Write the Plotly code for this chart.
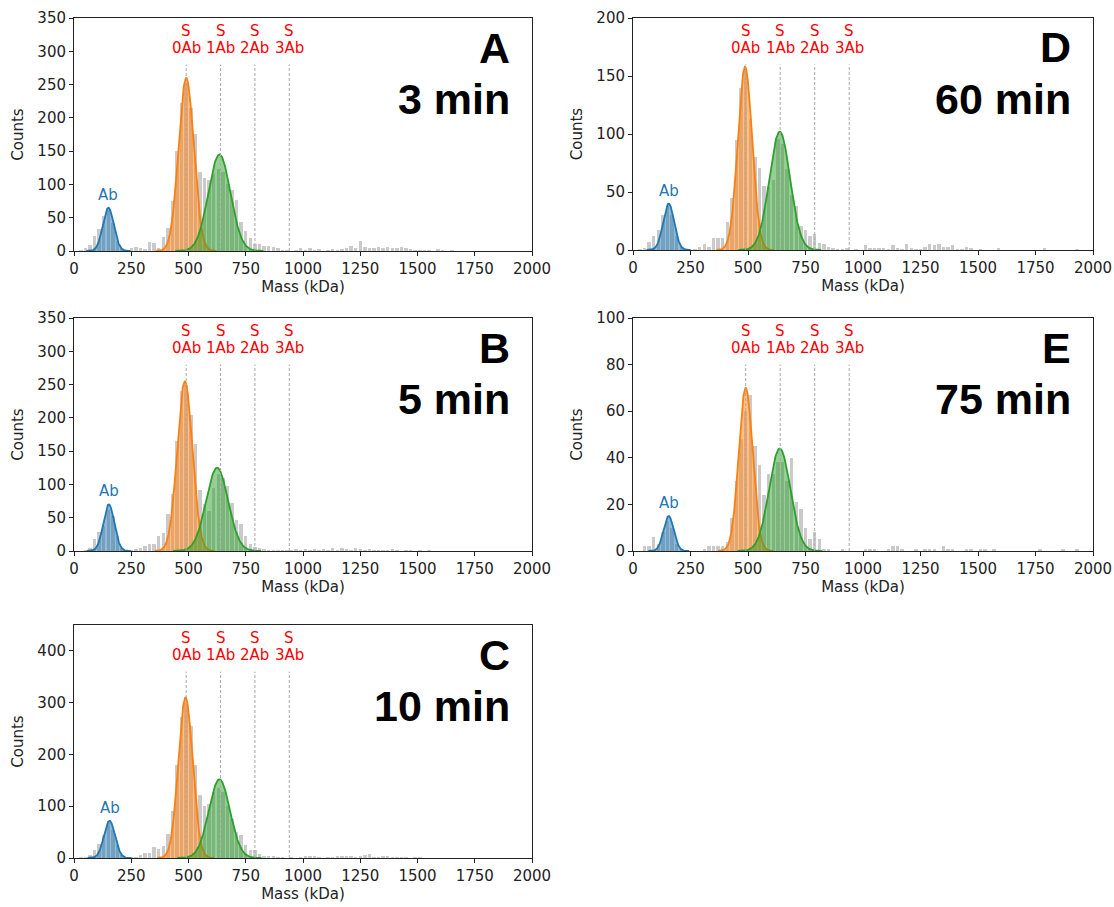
import numpy as np
import plotly.graph_objects as go

# ---------------- data ----------------
bin_centers = list(range(10, 2000, 20))   # 20 kDa bins, 0-2000 kDa
bar_width = 15

panel_letters = ["A", "B", "C", "D", "E"]
panel_times = ["3 min", "5 min", "10 min", "60 min", "75 min"]
y_max = [350, 350, 450, 200, 100]
y_dtick = [50, 50, 100, 50, 20]

counts_A = [0, 1, 5, 9, 22, 33, 52, 62, 42, 15,
            4, 1, 5, 6, 4, 3, 13, 12, 5, 21,
            34, 75, 150, 222, 252, 215, 176, 118, 110, 106,
            116, 123, 118, 100, 92, 76, 43, 30, 20, 10,
            10, 8, 7, 6, 5, 1, 2, 0, 2, 4,
            1, 4, 2, 3, 0, 1, 3, 2, 3, 4,
            8, 5, 15, 6, 5, 4, 6, 5, 6, 4,
            5, 6, 4, 3, 2, 2, 1, 1, 0, 3,
            1, 0, 2, 0, 0, 0, 0, 0, 0, 0,
            0, 0, 0, 0, 0, 0, 0, 0, 0, 0]
counts_B = [0, 0, 2, 5, 18, 28, 38, 62, 52, 22,
            5, 2, 1, 3, 4, 8, 10, 11, 23, 27,
            55, 85, 165, 240, 250, 205, 160, 91, 70, 60,
            95, 116, 110, 98, 72, 47, 40, 23, 10, 6,
            5, 3, 2, 2, 2, 1, 2, 1, 3, 2,
            3, 2, 3, 1, 3, 2, 4, 2, 4, 3,
            2, 4, 3, 2, 3, 2, 1, 2, 1, 3,
            2, 0, 1, 1, 0, 2, 0, 1, 0, 0,
            0, 0, 0, 0, 0, 0, 0, 0, 0, 0,
            0, 0, 0, 0, 0, 0, 0, 0, 0, 0]
counts_C = [0, 1, 2, 5, 15, 28, 45, 68, 55, 25,
            6, 2, 1, 2, 5, 10, 10, 21, 18, 24,
            47, 90, 180, 272, 300, 255, 180, 121, 100, 105,
            128, 136, 128, 100, 76, 50, 44, 25, 15, 16,
            8, 4, 4, 3, 2, 1, 0, 1, 0, 1,
            3, 3, 3, 1, 0, 2, 2, 3, 4, 4,
            3, 2, 3, 6, 7, 2, 1, 4, 3, 1,
            2, 2, 1, 0, 1, 2, 0, 0, 0, 0,
            0, 0, 0, 0, 0, 0, 0, 0, 0, 0,
            0, 0, 0, 0, 0, 0, 0, 0, 0, 0]
counts_D = [0, 1, 2, 7, 12, 17, 30, 38, 30, 12,
            3, 1, 0, 1, 3, 5, 3, 10, 10, 10,
            24, 45, 95, 140, 156, 113, 80, 71, 55, 54,
            60, 96, 91, 70, 47, 38, 21, 17, 12, 14,
            6, 5, 3, 2, 1, 1, 2, 0, 1, 0,
            4, 2, 2, 2, 2, 1, 4, 2, 1, 5,
            2, 1, 1, 3, 5, 4, 5, 3, 3, 4,
            1, 1, 3, 2, 0, 1, 0, 0, 0, 2,
            0, 0, 0, 0, 0, 0, 0, 0, 0, 2,
            0, 0, 0, 0, 0, 0, 1, 0, 0, 0]
counts_E = [0, 0, 2, 2, 6, 3, 8, 13, 10, 3,
            1, 0, 0, 0, 0, 1, 2, 2, 2, 2,
            4, 14, 30, 48, 60, 67, 45, 37, 24, 33,
            33, 38, 38, 30, 40, 21, 18, 10, 5, 8,
            5, 1, 1, 0, 0, 1, 0, 0, 0, 0,
            1, 1, 1, 0, 0, 1, 2, 2, 1, 0,
            0, 1, 0, 1, 1, 1, 0, 2, 1, 1,
            0, 0, 1, 1, 0, 1, 1, 0, 1, 0,
            0, 0, 0, 0, 0, 0, 0, 0, 1, 0,
            0, 0, 0, 1, 0, 0, 1, 0, 0, 0]
panel_counts = [counts_A, counts_B, counts_C, counts_D, counts_E]

# Gaussian fit parameters per panel: (amplitude, mean kDa, sigma kDa)
fit_Ab = [(65, 150, 24), (70, 152, 24), (72, 155, 24), (40, 155, 24), (15, 155, 22)]
fit_S0Ab = [(260, 490, 33), (255, 484, 33), (310, 487, 31), (158, 487, 31), (70, 490, 30)]
fit_S1Ab = [(145, 635, 48), (125, 625, 48), (152, 635, 46), (102, 638, 45), (44, 638, 46)]

species_masses = [490, 640, 790, 940]
species_labels = ["0Ab", "1Ab", "2Ab", "3Ab"]

# ---------------- layout geometry ----------------
W, H = 1114, 907
col_x = {"L": (74, 532), "R": (633, 1093)}
panel_pos = [("L", 18, 251), ("L", 318, 551), ("L", 625, 858), ("R", 18, 250), ("R", 318, 551)]

fit_colors = [("#1f77b4", "rgba(31,119,180,0.5)"),
              ("#ff7f0e", "rgba(255,127,14,0.5)"),
              ("#2ca02c", "rgba(44,160,44,0.5)")]

FONT = "DejaVu Sans"
fig = go.Figure()
shapes = []
annotations = []

for k in range(5):
    idx = k + 1
    xa = "x" if idx == 1 else f"x{idx}"
    ya = "y" if idx == 1 else f"y{idx}"
    col, top, bot = panel_pos[k]
    x0, x1 = col_x[col]
    xdom = [x0 / W, x1 / W]
    ydom = [1 - bot / H, 1 - top / H]

    fig.add_trace(go.Bar(x=bin_centers, y=panel_counts[k], width=bar_width,
                         marker=dict(color="rgba(128,128,128,0.42)", line=dict(width=0)),
                         xaxis=xa, yaxis=ya, showlegend=False, hoverinfo="skip"))
    for fits, (lc, fc) in zip([fit_Ab, fit_S0Ab, fit_S1Ab], fit_colors):
        amp, mu, sig = fits[k]
        xs = np.linspace(mu - 4 * sig, mu + 4 * sig, 200)
        ys = amp * np.exp(-0.5 * ((xs - mu) / sig) ** 2)
        fig.add_trace(go.Scatter(x=xs, y=ys, mode="lines", fill="tozeroy",
                                 line=dict(color=lc, width=1.8), fillcolor=fc,
                                 xaxis=xa, yaxis=ya, showlegend=False, hoverinfo="skip"))

    axis_common = dict(showline=True, mirror=True, linecolor="#222", linewidth=1,
                       ticks="outside", ticklen=4, tickcolor="#222", showgrid=False,
                       zeroline=False, automargin=False,
                       tickfont=dict(family=FONT, size=15, color="#222"))
    fig.layout[f"xaxis{idx}" if idx > 1 else "xaxis"] = dict(
        domain=xdom, anchor=ya, range=[0, 2000], tick0=0, dtick=250,
        title=dict(text="Mass (kDa)", font=dict(family=FONT, size=15, color="#222"), standoff=4),
        **axis_common)
    fig.layout[f"yaxis{idx}" if idx > 1 else "yaxis"] = dict(
        domain=ydom, anchor=xa, range=[0, y_max[k]], tick0=0, dtick=y_dtick[k],
        title=dict(text="Counts", font=dict(family=FONT, size=15, color="#222"), standoff=10),
        **axis_common)

    yd = ya + " domain"
    for m, lab in zip(species_masses, species_labels):
        shapes.append(dict(type="line", xref=xa, yref=yd, x0=m, x1=m, y0=0, y1=0.80,
                           line=dict(color="#a8a8a8", width=1, dash="3px,2px")))
        annotations.append(dict(xref=xa, yref=yd, x=m, y=0.945, text="S", showarrow=False,
                                font=dict(family=FONT, size=15, color="red"),
                                xanchor="center", yanchor="middle"))
        annotations.append(dict(xref=xa, yref=yd, x=m, y=0.870, text=lab, showarrow=False,
                                font=dict(family=FONT, size=15, color="red"),
                                xanchor="center", yanchor="middle"))
    amp, mu, sig = fit_Ab[k]
    annotations.append(dict(xref=xa, yref=ya, x=mu, y=amp, text="Ab", showarrow=False,
                            font=dict(family=FONT, size=15, color="#1f77b4"),
                            xanchor="center", yanchor="middle", yshift=13))
    annotations.append(dict(xref=xa + " domain", yref=yd, x=0.956, y=0.873,
                            text="<b>" + panel_letters[k] + "</b>", showarrow=False,
                            font=dict(family="Liberation Sans, Arial", size=43, color="black"),
                            xanchor="right", yanchor="middle"))
    annotations.append(dict(xref=xa + " domain", yref=yd, x=0.956, y=0.651,
                            text="<b>" + panel_times[k] + "</b>", showarrow=False,
                            font=dict(family="Liberation Sans, Arial", size=43, color="black"),
                            xanchor="right", yanchor="middle"))

fig.update_layout(width=W, height=H, margin=dict(l=0, r=0, t=0, b=0),
                  paper_bgcolor="white", plot_bgcolor="white", bargap=0,
                  shapes=shapes, annotations=annotations, showlegend=False,
                  font=dict(family=FONT))
fig.write_html("out.html", config={"displayModeBar": False},
               post_script="document.body.style.margin='0';document.body.style.overflow='hidden';")
